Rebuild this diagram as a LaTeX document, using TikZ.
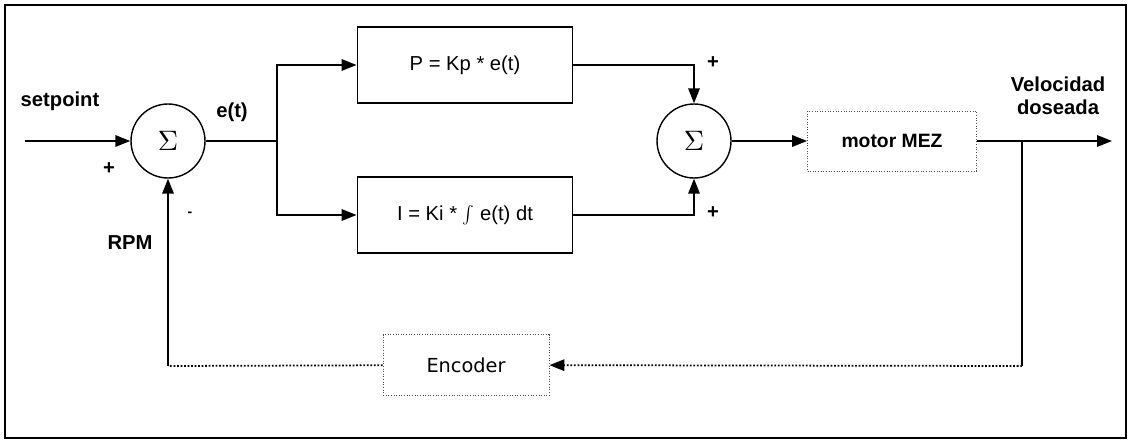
\documentclass[tikz,border=0pt]{standalone}
\usepackage{fontspec}
\setmainfont{Liberation Sans}
\newfontfamily\encfont{DejaVu Sans}
\usepackage{tikz}
\usetikzlibrary{arrows.meta, positioning}

\begin{document}
\begin{tikzpicture}[x=0.02cm, y=-0.02cm, >={Triangle[length=8.5pt,width=6.5pt]}]
    \tikzstyle{block} = [rectangle, draw, line width=1.1pt, minimum width=4.3cm, minimum height=1.52cm, font=\fontsize{11.5}{13}\selectfont]
    \tikzstyle{faintbox} = [rectangle, draw=black!70, densely dotted, line width=0.5pt]
    \tikzstyle{sumnode} = [circle, draw, line width=0.8pt, minimum size=1.48cm, inner sep=0pt]
    \tikzstyle{signal} = [draw, ->, line width=1pt]
    \tikzstyle{fbline} = [draw, densely dotted, line width=1pt]
    \tikzstyle{lbl} = [font=\fontsize{11.5}{13}\selectfont\bfseries, align=center]

    \useasboundingbox (0,0) rectangle (1131,442);
    \draw[line width=1.3pt] (5,5) rectangle (1126,438);

    \node [sumnode] (sum1) at (168,141) {\scalebox{1.6}{$\Sigma$}};
    \node [block] (pbox) at (465,65) {P = Kp * e(t)};
    \node [block] (ibox) at (465,215) {I = Ki * $\int$ e(t) dt};
    \node [sumnode] (sum2) at (694,141) {\scalebox{1.6}{$\Sigma$}};
    \node [faintbox, minimum width=3.38cm, minimum height=1.2cm, font=\fontsize{11}{13}\selectfont\bfseries] (motor) at (892,141) {motor MEZ};
    \node [faintbox, minimum width=3.32cm, minimum height=1.22cm, font=\encfont\fontsize{11}{13}\selectfont] (encoder) at (466,365) {Encoder};

    \coordinate (in) at (25,141);
    \coordinate (split) at (277,141);
    \coordinate (out) at (1112,141);
    \coordinate (tap) at (1022,141);
    \coordinate (fbright) at (1022,366);
    \coordinate (fbleft) at (168,366);

    \path [signal] (in) -- (sum1);
    \draw [line width=1pt] (sum1) -- (split);
    \path [signal] (split) |- (pbox);
    \path [signal] (split) |- (ibox);
    \path [signal] (pbox) -| (sum2);
    \path [signal] (ibox) -| (sum2);
    \path [signal] (sum2) -- (motor);
    \path [signal] (motor) -- (out);
    \draw [line width=1pt] (tap) -- (fbright);
    \path [fbline, ->] (fbright) -- (encoder);
    \path [fbline] (encoder) -- (fbleft);
    \path [signal] (fbleft) -- (sum1);

    \node [lbl] (setpt) at (60,101) {setpoint};
    \node [lbl] (plus1) at (109,169) {+};
    \node [lbl] (err) at (232,112) {e(t)};
    \node [lbl] (rpm) at (130,243) {RPM};
    \node [lbl, font=\fontsize{8}{9}\selectfont\bfseries] (minus1) at (190,214) {-};
    \node [lbl] (plus2) at (713,63) {+};
    \node [lbl] (plus3) at (713,213) {+};
    \node [lbl] (vel) at (1058,96) {Velocidad\\doseada};
\end{tikzpicture}
\end{document}
